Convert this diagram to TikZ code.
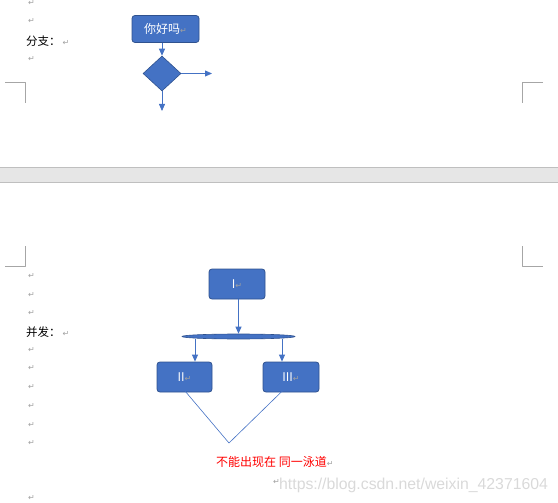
\documentclass[tikz,border=0pt]{standalone}
\usepackage{fontspec}
\setmainfont{Liberation Sans}
\newfontfamily\cjk{Noto Sans CJK SC}
\newfontfamily\dejavu{DejaVu Sans}
\usetikzlibrary{shapes.geometric,arrows.meta}
\definecolor{wordblue}{HTML}{4472C4}
\definecolor{wordedge}{HTML}{2F528F}
\definecolor{pagegap}{HTML}{E6E6E6}
\definecolor{markgray}{HTML}{A0A0A0}
\newcommand\retmark{{\dejavu\fontsize{8}{9}\selectfont\color{markgray}↵}}
\tikzset{
  flowbox/.style={draw=wordedge, fill=wordblue, rounded corners=3pt, line width=0.8pt,
    text=white, font=\cjk\fontsize{12}{14}\selectfont, inner sep=0pt},
  flowline/.style={draw=wordblue, line width=0.8pt},
  cropmark/.style={draw=gray!70, line width=0.8pt},
  para/.style={inner sep=0pt, anchor=west, font=\cjk\fontsize{11.5}{13}\selectfont},
}
\begin{document}
\begin{tikzpicture}[x=1pt, y=-1pt, >={Triangle[width=6pt,length=7pt]}, line join=round]
  \useasboundingbox (0,0) rectangle (558,503);
  % 页间灰带
  \fill[pagegap] (0,167) rectangle (558,182);
  \draw[gray!50] (0,167) -- (558,167) (0,182) -- (558,182);
  % 页边角标
  \draw[cropmark] (5,82) -- (25,82) -- (25,103);
  \draw[cropmark] (543,82) -- (522,82) -- (522,103);
  \draw[cropmark] (25,246) -- (25,266) -- (5,266);
  \draw[cropmark] (522,246) -- (522,266) -- (543,266);

  % 第一页：分支
  \foreach \y in {3,21,59} \node[para] (ma\y) at (28,\y) {\retmark};
  \node[para] (fenzhi) at (26,41.5) {分支：\,\retmark};
  \node[flowbox, minimum width=67pt, minimum height=27pt] (hello) at (165.5,29) {你好吗\retmark};
  \node[draw=wordedge, fill=wordblue, diamond, inner sep=0pt, minimum width=38pt,
    minimum height=35pt, line width=0.6pt] (branch) at (162,73.5) {};
  \coordinate (right) at (212,73.5);
  \coordinate (down) at (162,111);
  \draw[flowline,->] (hello.south -| branch.north) -- (branch.north);
  \draw[flowline,->] (branch.east) -- (right);
  \draw[flowline,->] (branch.south) -- (down);

  % 第二页：并发
  \foreach \y in {276,295,313,350,368,387,406,425,443,498} \node[para] (mb\y) at (28,\y) {\retmark};
  \node[para] (bingfa) at (26,332) {并发：\,\retmark};
  \node[flowbox, minimum width=56pt, minimum height=30pt] (I) at (237,284) {I\retmark};
  \node[draw=wordedge, fill=wordblue, ellipse, inner sep=0pt, minimum width=113pt,
    minimum height=5pt, line width=0.6pt] (bar) at (238.5,336.5) {};
  \node[flowbox, minimum width=55pt, minimum height=30pt] (II) at (184.5,377) {II\retmark};
  \node[flowbox, minimum width=56pt, minimum height=30pt] (III) at (291,377) {III\retmark};
  \draw[flowline,->] (I.south -| bar.north) -- (bar.north);
  \draw[flowline,->] ([xshift=-43.5pt]bar.south) -- ([xshift=-43.5pt]bar.south |- II.north);
  \draw[flowline,->] ([xshift=43.5pt]bar.south) -- ([xshift=43.5pt]bar.south |- III.north);
  \coordinate (meet) at (229,443);
  \draw[flowline, line width=0.6pt] ([yshift=2pt]II.south) -- (meet) -- ([xshift=-6pt,yshift=4pt]III.south);
  \node[anchor=west, inner sep=0pt, text=red, font=\cjk\fontsize{12}{14}\selectfont] (note)
    at (216,462) {不能出现在 同一泳道\retmark};
  \node[anchor=west, inner sep=0pt] (mark) at (273,482) {\retmark};
  \node[anchor=west, inner sep=0pt, text=gray!30, font=\fontsize{15.8}{18}\selectfont] (wm)
    at (279,485) {https://blog.csdn.net/weixin\_42371604};
\end{tikzpicture}
\end{document}
